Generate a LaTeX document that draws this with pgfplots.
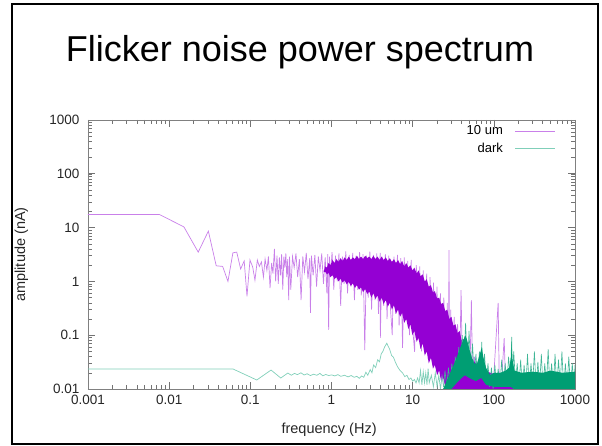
\documentclass[border=0pt]{standalone}
\usepackage{fontspec}
\setmainfont{Liberation Sans}
\usepackage{pgfplots}
\pgfplotsset{compat=1.18}
\definecolor{gp}{HTML}{9400D3}
\definecolor{gg}{HTML}{009E73}
\pgfplotstableread{
f a
0.001 17.5
0.0076 17.5
0.0152 10.3
0.0228 3.5
0.0304 8.6
0.038 1.95
0.0456 1.9
0.053 1.0
0.061 3.4
0.068 3.5
0.076 1.7
0.084 2.4
0.091 0.53
0.099 2.5
0.107 1.85
0.114 1.05
0.122 2.5
0.129 1.9
0.137 2.3
0.145 1.2
0.152 2.6
0.160 1.6
0.167 2.9
0.175 0.75
0.183 2.2
0.190 1.4
0.198 4.0
0.205 1.0
0.213 3.0
0.221 0.9
0.228 2.8
0.236 1.3
0.243 3.2
0.251 0.7
0.259 2.9
0.266 1.8
0.274 3.3
0.281 1.2
0.289 2.6
0.297 0.45
0.304 2.9
0.315 0.7
0.331 2.9
0.347 1.8
0.365 3.3
0.383 1.2
0.402 2.6
0.422 0.45
0.443 2.9
0.465 1.5
0.489 3.4
0.513 1.1
0.539 2.7
0.550 0.26
0.566 3.0
0.594 1.3
0.624 3.1
0.655 0.8
0.688 2.9
0.722 1.6
0.758 3.3
0.796 0.9
0.836 2.8
0.878 0.6
0.90 3.2
0.922 0.125
0.945 2.9
0.968 1.2
1.016 3.5
1.067 0.7
1.12 3.0
1.176 1.0
1.235 3.3
1.297 0.35
1.362 2.9
1.43 0.9
1.5 3.6
1.577 0.6
1.656 3.1
1.738 0.8
1.825 3.4
1.917 0.45
2.01 3.0
2.11 0.7
2.22 3.5
2.33 0.55
2.45 3.2
2.57 0.053
2.7 3.0
2.83 0.5
2.97 3.6
3.12 0.3
3.28 3.1
3.44 0.45
3.61 3.3
3.79 0.25
3.98 3.4
4.0 0.089
4.18 2.9
4.39 0.35
4.61 3.2
4.84 0.2
5.08 3.0
5.34 0.3
5.6 0.1
5.88 2.9
6.18 0.25
6.49 3.1
6.81 0.15
7.15 2.7
7.51 0.058
7.88 2.8
8.28 0.2
8.69 2.4
9.13 0.1
9.58 2.5
10.06 0.12
10.57 0.049
11.1 2.0
11.65 0.08
12.23 1.9
12.84 0.05
13.49 1.6
14.16 0.07
14.87 1.4
15.61 0.035
16.39 1.2
17.21 0.05
18.07 0.95
18.98 0.025
19.93 0.8
20.92 0.03
21.97 0.6
23.07 0.015
24.22 0.5
25.43 0.02
26.7 0.4
27.5 0.012
28.04 3.8
28.5 0.015
29.44 0.3
30.91 0.011
32.46 0.22
34.08 0.01
35.79 0.16
37.58 0.01
39.46 0.69
41.43 0.01
43.5 0.08
45.68 0.012
47.96 0.06
50.36 0.011
52.88 0.45
55 0.011
58 0.04
62 0.012
66 0.03
70 0.011
75 0.025
80 0.011
85 0.02
90 0.01
100 0.018
113 0.40
117 0.011
125 0.015
134 0.088
140 0.011
150 0.015
165 0.012
175 0.01
}\purpleline
\pgfplotstableread{
f a
0.80 1.5
0.84 1.9
0.88 1.8
0.92 2.2
0.97 2.0
1.03 2.5
1.09 2.2
1.15 2.6
1.22 2.3
1.29 2.7
1.37 2.4
1.45 2.8
1.54 2.5
1.63 2.9
1.73 2.5
1.83 2.8
1.94 2.6
2.06 3.0
2.18 2.6
2.31 2.9
2.45 2.6
2.6 3.0
2.75 2.7
2.92 2.9
3.1 2.6
3.28 3.0
3.48 2.6
3.69 2.9
3.91 2.5
4.14 2.9
4.39 2.5
4.66 2.8
4.94 2.4
5.23 2.7
5.55 2.3
5.88 2.6
6.23 2.2
6.61 2.5
7.0 2.1
7.42 2.4
7.87 1.9
8.34 2.2
8.84 1.8
9.37 2.0
9.93 1.6
10.5 1.8
11.2 1.4
11.8 1.6
12.5 1.25
13.3 1.35
14.1 1.0
14.9 1.1
15.8 0.8
16.8 0.85
17.8 0.62
18.8 0.66
20.0 0.48
21.2 0.5
22.4 0.38
23.8 0.4
25.2 0.28
26.7 0.3
28.3 0.2
30.0 0.22
31.8 0.15
33.7 0.16
35.7 0.11
37.9 0.12
40.1 0.08
42.5 0.085
45.1 0.055
47.8 0.06
50.6 0.04
55 0.035
60 0.03
70 0.025
90 0.02
120 0.018
150 0.015
170 0.012
180 0.009
28.3 0.009
26.7 0.012
25.2 0.011
23.8 0.016
22.4 0.014
21.2 0.022
20.0 0.018
18.8 0.028
17.8 0.024
16.8 0.038
15.8 0.03
14.9 0.05
14.1 0.042
13.3 0.07
12.5 0.055
11.8 0.09
11.2 0.075
10.5 0.12
9.93 0.1
9.37 0.16
8.84 0.13
8.34 0.2
7.87 0.17
7.42 0.26
7.0 0.22
6.61 0.3
6.23 0.25
5.88 0.36
5.55 0.3
5.23 0.4
4.94 0.34
4.66 0.45
4.39 0.38
4.14 0.5
3.91 0.42
3.69 0.55
3.48 0.47
3.28 0.6
3.1 0.5
2.92 0.65
2.75 0.58
2.6 0.72
2.45 0.63
2.31 0.78
2.18 0.7
2.06 0.85
1.94 0.76
1.83 0.92
1.73 0.82
1.63 0.98
1.54 0.88
1.45 1.05
1.37 0.95
1.29 1.12
1.22 1.0
1.15 1.2
1.09 1.1
1.03 1.3
0.97 1.2
0.92 1.45
0.88 1.35
0.84 1.5
0.80 1.5
}\purplefill
\pgfplotstableread{
f a
0.001 0.0236
0.061 0.0236
0.12 0.0147
0.18 0.0225
0.237 0.016
0.29 0.0198
0.32 0.018
0.35 0.0195
0.38 0.0185
0.42 0.02
0.46 0.0182
0.5 0.0192
0.55 0.0178
0.6 0.0188
0.66 0.018
0.72 0.0195
0.78 0.0176
0.85 0.0186
0.93 0.0178
1.0 0.0183
1.1 0.0175
1.2 0.0185
1.3 0.0172
1.45 0.018
1.6 0.0168
1.75 0.0178
1.9 0.0165
2.05 0.0172
2.2 0.0158
2.35 0.0175
2.5 0.0165
2.65 0.0205
2.8 0.018
3.0 0.023
3.15 0.02
3.3 0.028
3.5 0.025
3.7 0.035
3.9 0.032
4.1 0.045
4.3 0.05
4.5 0.06
4.8 0.071
5.0 0.062
5.2 0.055
5.5 0.042
5.8 0.039
6.1 0.032
6.5 0.026
7.0 0.022
7.5 0.02
8.0 0.017
8.5 0.018
9.0 0.015
9.5 0.016
10 0.014
10.5 0.015
11 0.013
11.5 0.016
12 0.013
12.5 0.022
13 0.012
13.5 0.021
14 0.013
14.5 0.02
15 0.012
15.5 0.024
16 0.013
17 0.018
18 0.011
19 0.02
20 0.011
21 0.018
22 0.01
23 0.017
24 0.011
}\greenline
\pgfplotstableread{
f a
24 0.011
25 0.022
26.3 0.011
27.6 0.025
29 0.012
30.4 0.03
31.9 0.013
33.5 0.04
35.2 0.015
37 0.06
38.8 0.02
40.8 0.1
42.8 0.03
44.9 0.17
47.2 0.025
49.5 0.12
52 0.02
54.6 0.07
57.3 0.018
60.2 0.045
63.2 0.015
66.4 0.05
69.7 0.02
71 0.075
73.2 0.018
76.8 0.045
80.7 0.013
84.7 0.03
88.9 0.011
93.4 0.025
98 0.01
103 0.028
108 0.011
113 0.024
119 0.012
125 0.035
131 0.011
138 0.03
145 0.012
152 0.04
160 0.015
166 0.093
168 0.015
176 0.05
185 0.012
194 0.03
204 0.011
214 0.035
225 0.01
236 0.028
248 0.011
260 0.045
273 0.01
287 0.03
301 0.012
316 0.05
332 0.01
349 0.032
366 0.011
385 0.045
404 0.01
424 0.03
445 0.012
467 0.055
491 0.01
515 0.03
541 0.011
568 0.045
596 0.01
626 0.035
657 0.012
690 0.05
725 0.01
761 0.03
799 0.011
839 0.04
881 0.01
925 0.03
971 0.012
1000 0.028
}\greenzig
\begin{document}
\begin{tikzpicture}[x=1pt,y=1pt]
\useasboundingbox (0,0) rectangle (602,446);
\draw[line width=2.2pt] (12,2) rectangle (598,442);
\node[anchor=base, font=\fontsize{36}{40}\selectfont] at (300,384) {Flicker noise power spectrum};
\begin{axis}[
  at={(88pt,57pt)}, anchor=south west, scale only axis,
  width=487pt, height=269pt,
  xmode=log, ymode=log,
  xmin=0.001, xmax=1000, ymin=0.01, ymax=1000,
  xtick={0.001,0.01,0.1,1,10,100,1000},
  xticklabels={0.001,0.01,0.1,1,10,100,1000},
  ytick={0.01,0.1,1,10,100,1000},
  yticklabels={0.01,0.1,1,10,100,1000},
  /pgf/number format/assume math mode=true,
  tick align=inside,
  axis line style={black!50, line width=0.8pt},
  major tick style={black!55, line width=0.6pt},
  minor tick style={black!55, line width=0.5pt},
  major tick length=7pt, minor tick length=4pt,
  tick label style={font=\fontsize{13.5}{14}\selectfont, text=black!85},
  xticklabel style={yshift=-3pt},
  yticklabel style={xshift=-5pt},
  xlabel={frequency (Hz)}, ylabel={amplitude (nA)},
  every axis x label/.style={at={(axis description cs:0.495,-0.152)}, anchor=center,
    font=\fontsize{14.5}{15}\selectfont, text=black!85},
  every axis y label/.style={at={(axis description cs:-0.137,0.5)}, anchor=center, rotate=90,
    font=\fontsize{14.5}{15}\selectfont, text=black!85},
  legend plot pos=right, legend cell align=right,
  legend image code/.code={\path (0pt,0pt); \draw[#1] (10pt,0pt) -- (50pt,0pt);},
  legend style={at={(axis description cs:0.963,0.99)}, anchor=north east,
    draw=none, fill=none, font=\fontsize{13}{13}\selectfont,
    row sep=3pt, inner sep=1pt},
]
\addlegendimage{gp!50!white, line width=0.9pt}
\addlegendentry{10 um}
\addlegendimage{gg!50!white, line width=0.9pt}
\addlegendentry{dark}
\addplot[gp!50!white, line width=0.7pt, forget plot] table[x=f,y=a] {\purpleline};
\addplot[fill=gp, draw=none, forget plot] table[x=f,y=a] {\purplefill} -- cycle;
\addplot[gg!50!white, line width=0.7pt, forget plot] table[x=f,y=a] {\greenline};
\addplot[gg!75!white, line width=0.6pt, forget plot] table[x=f,y=a] {\greenzig};
\addplot[fill=gg, draw=none, forget plot] coordinates {
(23,0.009) (25,0.012) (29,0.02) (34,0.035) (38.7,0.06) (42,0.08) (44.5,0.1)
(47,0.08) (50,0.055) (53,0.04) (57,0.03) (62,0.03) (66,0.04) (71,0.06) (74,0.04)
(80,0.025) (90,0.018) (100,0.02) (120,0.02) (140,0.022) (155,0.025) (163,0.04)
(166,0.07) (170,0.035) (180,0.022) (220,0.02) (300,0.021) (400,0.02)
(500,0.022) (700,0.02) (1000,0.021)
(1000,0.009) (200,0.009) (160,0.011) (100,0.011) (80,0.012) (70,0.016)
(60,0.014) (50,0.016) (44,0.018) (40,0.016) (35,0.013) (30,0.01)
} -- cycle;
\end{axis}
\end{tikzpicture}
\end{document}
